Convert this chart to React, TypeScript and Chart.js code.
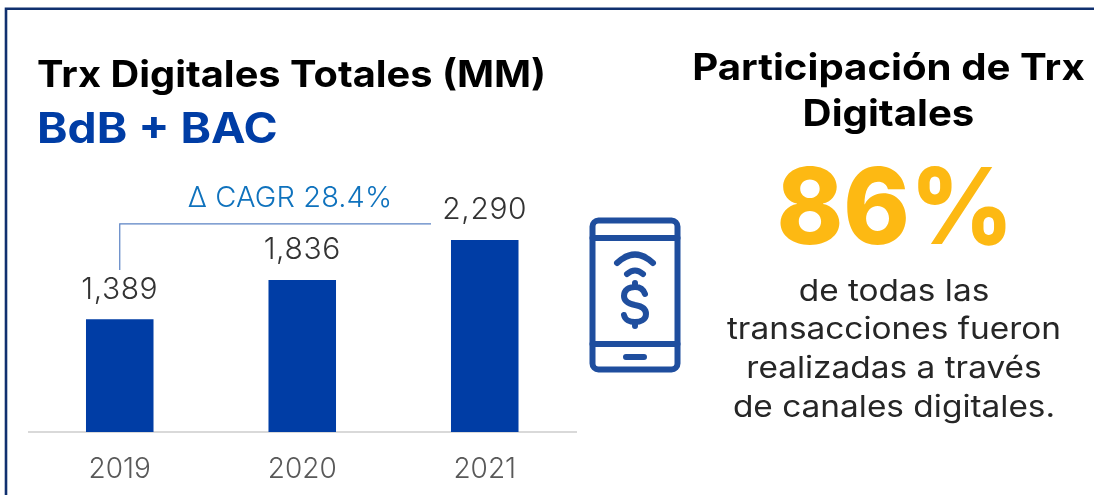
import React, { useEffect, useRef } from "react";
import { Chart, registerables } from "chart.js";

Chart.register(...registerables);

const categories = ["2019", "2020", "2021"];
const values = [1389, 1836, 2290];
const valueLabels = ["1,389", "1,836", "2,290"];
const FONT = "Inter, sans-serif";

const overlay = {
  id: "overlay",
  afterDatasetsDraw(chart: any) {
    const { ctx, scales } = chart;
    const x = scales.x;
    const y = scales.y;
    ctx.save();
    ctx.font = `300 30px ${FONT}`;
    ctx.letterSpacing = "0.6px";
    ctx.fillStyle = "#333333";
    ctx.textAlign = "center";
    ctx.textBaseline = "alphabetic";
    values.forEach((v, i) => {
      ctx.fillText(valueLabels[i], x.getPixelForValue(i), y.getPixelForValue(v) - 20.5);
    });
    const x0 = x.getPixelForValue(0);
    const lineY = y.getPixelForValue(values[2]) - 16;
    ctx.strokeStyle = "#5B82C4";
    ctx.lineWidth = 1.2;
    ctx.beginPath();
    ctx.moveTo(x0, 270);
    ctx.lineTo(x0, lineY);
    ctx.lineTo(431, lineY);
    ctx.stroke();
    ctx.font = `300 29px ${FONT}`;
    ctx.letterSpacing = "0.1px";
    ctx.fillStyle = "#0F72BD";
    ctx.fillText("Δ CAGR 28.4%", 290, 207);
    ctx.restore();
  },
};

const abs = (left: number, top: number, extra: any = {}) => ({
  position: "absolute" as const,
  left,
  top,
  whiteSpace: "nowrap" as const,
  fontFamily: FONT,
  ...extra,
});

const rightLines = ["de todas las", "transacciones fueron", "realizadas a través", "de canales digitales."];

export default function App() {
  const ref = useRef<HTMLCanvasElement>(null);
  useEffect(() => {
    const chart = new Chart(ref.current!, {
      type: "bar",
      data: {
        labels: categories,
        datasets: [
          {
            data: values,
            backgroundColor: "#003DA5",
            categoryPercentage: 1,
            barPercentage: 0.37,
          },
        ],
      },
      options: {
        animation: false,
        responsive: false,
        layout: { padding: { left: 28.5, right: 518, top: 100, bottom: 0 } },
        plugins: { legend: { display: false }, tooltip: { enabled: false } },
        scales: {
          x: {
            afterFit(s: any) {
              s.height = 63;
            },
            grid: { display: false, drawTicks: false },
            border: { color: "#D9D9D9", width: 2 },
            ticks: { color: "#595959", font: { family: FONT, size: 28, weight: 300 }, padding: 21, maxRotation: 0 },
          },
          y: { display: false, min: 110, max: 3878 },
        },
      },
      plugins: [overlay],
    });
    return () => chart.destroy();
  }, []);

  return (
    <div style={{ position: "fixed", left: 0, top: 0, width: 1094, height: 495, background: "#fff", overflow: "hidden" }}>
      <canvas ref={ref} width={1094} height={495} style={{ position: "absolute", left: 0, top: 0, display: "block" }} />
      <svg width={1094} height={495} style={{ position: "absolute", left: 0, top: 0 }} fill="none">
        <path d="M6 495V8.7H1094" stroke="#10306F" strokeWidth={2.6} />
      </svg>
      <div style={abs(36.5, 51, { fontSize: 37, fontWeight: 700, color: "#000", transform: "scaleX(1.075)", transformOrigin: "left center" })}>Trx Digitales Totales (MM)</div>
      <div style={abs(37, 102, { fontSize: 42, fontWeight: 700, color: "#003DA5", transform: "scaleX(1.1)", transformOrigin: "left center" })}>BdB + BAC</div>
      <div style={{ ...abs(680, 44, { width: 417, textAlign: "center", fontSize: 37, fontWeight: 700, color: "#000", lineHeight: "46px", transform: "scaleX(1.086)", transformOrigin: "center" }) }}>
        Participación de Trx
        <br />
        Digitales
      </div>
      <div style={{ ...abs(681, 146, { width: 428, textAlign: "center", fontSize: 106, fontWeight: 800, color: "#FDB913", lineHeight: "120px", transform: "scaleX(0.95)", transformOrigin: "center" }) }}>86%</div>
      {rightLines.map((t, i) => (
        <div key={t} style={{ ...abs(680, 270.5 + i * 38.7, { width: 428, textAlign: "center", fontSize: 30, fontWeight: 400, color: "#262626", lineHeight: "38px", transform: "scaleX(1.113)", transformOrigin: "center" }) }}>
          {t}
        </div>
      ))}
      <svg width={1094} height={495} style={{ position: "absolute", left: 0, top: 0 }} fill="none" stroke="#1F4E9E" strokeWidth={6} strokeLinecap="round" strokeLinejoin="round">
        <rect x={592.5} y={220.5} width={85} height={149} rx={6} />
        <path d="M592.5 238H677.5M592.5 344H677.5M626 357H644" />
        <path d="M617 263Q635 246 653 263M627 274Q635 267 643 274" />
        <path d="M645 294C643 288 638 287 635 287C629 287 624 290 624 296C624 302 630 304 635 305C641 306 646 308 646 314C646 320 640 322 635 322C630 322 625 320 624 315M635 283V287M635 322V326" />
      </svg>
    </div>
  );
}
